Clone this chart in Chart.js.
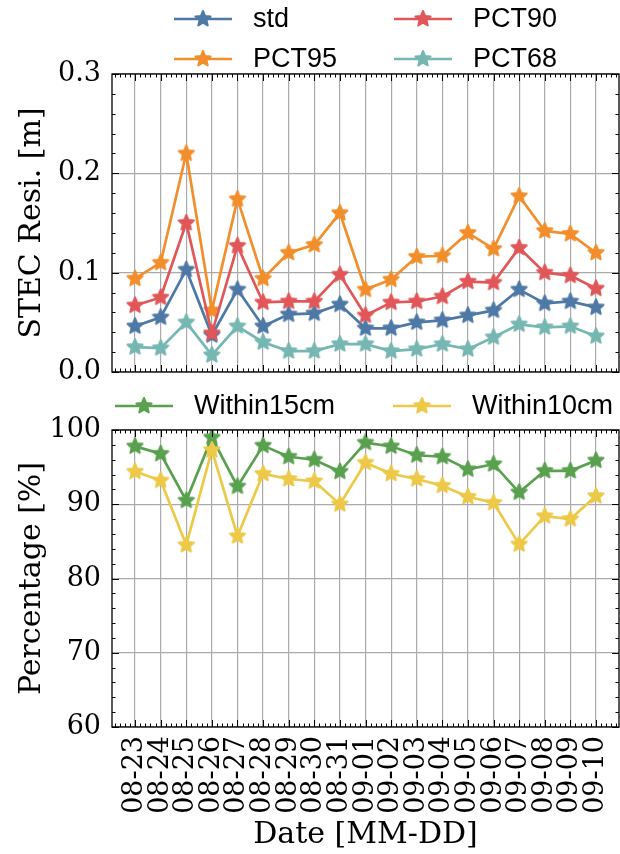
<!DOCTYPE html>
<html lang="en">
<head>
<meta charset="UTF-8">
<title>STEC residuals by date</title>
<script src="https://cdn.jsdelivr.net/npm/chart.js"></script>
<style>
  body { margin: 0; background: #fff; }
  #wrap { position: relative; width: 620px; height: 854px; }
  #wrap canvas { position: absolute; left: 0; }
</style>
</head>
<body>
<div id="wrap">
  <canvas id="stecChart" width="620" height="390" style="top:0"></canvas>
  <canvas id="pctChart" width="620" height="464" style="top:390px"></canvas>
</div>
<script>
// dates on the x axis
const dates = ['08-23', '08-24', '08-25', '08-26', '08-27', '08-28', '08-29', '08-30', '08-31',
               '09-01', '09-02', '09-03', '09-04', '09-05', '09-06', '09-07', '09-08', '09-09', '09-10'];

// STEC residual statistics [m]
const stdVals   = [0.046, 0.055, 0.103, 0.037, 0.083, 0.046, 0.058, 0.059, 0.068, 0.044,
                   0.044, 0.050, 0.052, 0.057, 0.062, 0.083, 0.069, 0.071, 0.065];
const pct95Vals = [0.094, 0.110, 0.220, 0.062, 0.174, 0.094, 0.120, 0.128, 0.160, 0.083,
                   0.093, 0.116, 0.117, 0.140, 0.124, 0.177, 0.142, 0.139, 0.120];
const pct90Vals = [0.067, 0.075, 0.150, 0.039, 0.127, 0.070, 0.071, 0.071, 0.098, 0.057,
                   0.070, 0.071, 0.076, 0.091, 0.090, 0.125, 0.100, 0.097, 0.084];
const pct68Vals = [0.025, 0.024, 0.050, 0.017, 0.046, 0.030, 0.021, 0.021, 0.028, 0.028,
                   0.021, 0.023, 0.028, 0.023, 0.035, 0.048, 0.045, 0.046, 0.036];

// share of residuals under the thresholds [%]
const within15 = [97.8, 96.8, 90.5, 99.0, 92.4, 97.9, 96.4, 96.0, 94.4, 98.3,
                  97.8, 96.6, 96.4, 94.7, 95.4, 91.6, 94.5, 94.5, 95.9];
const within10 = [94.4, 93.2, 84.5, 97.3, 85.7, 94.1, 93.4, 93.1, 90.0, 95.6,
                  94.1, 93.4, 92.5, 91.0, 90.2, 84.6, 88.4, 88.0, 91.1];

// y axis ticks
const stecTicks = [0.0, 0.1, 0.2, 0.3];
const pctTicks = [60, 70, 80, 90, 100];

const SERIF = "'DejaVu Serif', serif";
const SANS = "'Liberation Sans', Arial, sans-serif";

// filled five-point star used as the marker
function starMarker(color, r) {
    const size = Math.ceil(r * 2 + 4);
    const c = document.createElement('canvas');
    c.width = c.height = size;
    const g = c.getContext('2d');
    g.translate(size / 2, size / 2);
    g.beginPath();
    for (let i = 0; i < 10; i++) {
        const rad = i % 2 ? r * 0.46 : r;
        const a = -Math.PI / 2 + i * Math.PI / 5;
        g.lineTo(rad * Math.cos(a), rad * Math.sin(a));
    }
    g.closePath();
    g.fillStyle = color;
    g.strokeStyle = color;
    g.lineWidth = 2;
    g.lineJoin = 'round';
    g.fill();
    g.stroke();
    return c;
}

function series(label, values, color, i, n) {
    return {
        label: label,
        data: values.map((v, k) => ({x: k, y: v})),
        borderColor: color,
        backgroundColor: color,
        borderWidth: 2.7,
        pointStyle: starMarker(color, 8),
        pointRadius: 8,
        tension: 0,
        order: n - i   // later series drawn on top
    };
}

// inward ticks (major + minor) on all four sides and a closed frame
const innerTicks = {
    id: 'innerTicks',
    afterDraw(chart, args, o) {
        const {ctx, chartArea: a, scales: {x, y}} = chart;
        ctx.save();
        ctx.strokeStyle = '#000';
        ctx.lineWidth = 1;
        ctx.beginPath();
        for (let k = Math.ceil(x.min * 5); k <= Math.floor(x.max * 5); k++) {
            const px = Math.round(x.getPixelForValue(k / 5)) + 0.5;
            const len = k % 5 === 0 ? 7 : 3.5;
            ctx.moveTo(px, a.bottom); ctx.lineTo(px, a.bottom - len);
            ctx.moveTo(px, a.top); ctx.lineTo(px, a.top + len);
        }
        const step = o.minor;
        for (let k = Math.ceil(y.min / step - 1e-6); k <= Math.floor(y.max / step + 1e-6); k++) {
            const py = Math.round(y.getPixelForValue(k * step)) + 0.5;
            const len = k % 5 === 0 ? 7 : 3.5;
            ctx.moveTo(a.left, py); ctx.lineTo(a.left + len, py);
            ctx.moveTo(a.right, py); ctx.lineTo(a.right - len, py);
        }
        ctx.stroke();
        ctx.lineWidth = 1.3;
        ctx.strokeRect(a.left, a.top, a.right - a.left, a.bottom - a.top);
        ctx.restore();
    }
};

// legend: line handle with a star in the middle, filled column by column
const lineLegend = {
    id: 'lineLegend',
    afterDraw(chart, args, o) {
        const ctx = chart.ctx;
        const dsets = chart.data.datasets;
        ctx.save();
        ctx.font = o.font;
        ctx.textBaseline = 'middle';
        ctx.fillStyle = '#000';
        dsets.forEach((ds, i) => {
            const col = Math.floor(i / o.rows), row = i % o.rows;
            const x0 = o.colX[col], y0 = o.rowY[row];
            ctx.strokeStyle = ds.borderColor;
            ctx.lineWidth = 2.7;
            ctx.beginPath();
            ctx.moveTo(x0, y0); ctx.lineTo(x0 + o.handle, y0);
            ctx.stroke();
            const img = ds.pointStyle;
            ctx.drawImage(img, x0 + o.handle / 2 - img.width / 2, y0 - img.height / 2);
            ctx.fillText(ds.label, x0 + o.handle + o.gap, y0 + 1);
        });
        ctx.restore();
    }
};

function xAxis(showLabels, height) {
    return {
        type: 'linear',
        min: -0.9,
        max: 18.9,
        afterBuildTicks: axis => { axis.ticks = dates.map((d, i) => ({value: i})); },
        afterFit: scale => {
            scale.height = height;
            scale.paddingLeft = 0;
            scale.paddingRight = 0;
        },
        grid: {color: '#aaaaaa', lineWidth: 1.2, drawTicks: false},
        border: {display: false},
        ticks: {
            display: showLabels,
            autoSkip: false,
            minRotation: 90,
            maxRotation: 90,
            padding: 9,
            color: '#000',
            font: {family: SERIF, size: 27},
            callback: v => dates[v]
        },
        title: {
            display: showLabels,
            text: 'Date [MM-DD]',
            color: '#000',
            font: {family: SERIF, size: 30},
            padding: {top: 0, bottom: 1}
        }
    };
}

function yAxis(title, tickVals, digits) {
    return {
        min: tickVals[0],
        max: tickVals[tickVals.length - 1],
        afterBuildTicks: axis => { axis.ticks = tickVals.map(v => ({value: v})); },
        afterFit: scale => {
            scale.width = 112;
            scale.paddingTop = 0;
            scale.paddingBottom = 0;
        },
        grid: {color: '#aaaaaa', lineWidth: 1.2, drawTicks: false},
        border: {display: false},
        ticks: {
            padding: 11,
            color: '#000',
            font: {family: SERIF, size: 27},
            callback: v => v.toFixed(digits)
        },
        title: {
            display: true,
            text: title,
            color: '#000',
            font: {family: SERIF, size: 30},
            padding: {top: 14, bottom: 0}
        }
    };
}

const stecSets = [
    ['std', stdVals, '#4e79a7'],
    ['PCT95', pct95Vals, '#f28e2b'],
    ['PCT90', pct90Vals, '#e15759'],
    ['PCT68', pct68Vals, '#76b7b2']
];

new Chart(document.getElementById('stecChart'), {
    type: 'line',
    data: {datasets: stecSets.map((s, i) => series(s[0], s[1], s[2], i, stecSets.length))},
    options: {
        responsive: false,
        animation: false,
        layout: {autoPadding: false, padding: {top: 74, right: 1, left: 0, bottom: 0}},
        scales: {
            x: xAxis(false, 18),
            y: yAxis('STEC Resi. [m]', stecTicks, 1)
        },
        plugins: {
            legend: {display: false},
            tooltip: {enabled: false},
            innerTicks: {minor: 0.02},
            lineLegend: {font: '27px ' + SANS, rows: 2, colX: [174, 394], rowY: [19, 59], handle: 58, gap: 21}
        }
    },
    plugins: [innerTicks, lineLegend]
});

const pctSets = [
    ['Within15cm', within15, '#59a14f'],
    ['Within10cm', within10, '#edc948']
];

new Chart(document.getElementById('pctChart'), {
    type: 'line',
    data: {datasets: pctSets.map((s, i) => series(s[0], s[1], s[2], i, pctSets.length))},
    options: {
        responsive: false,
        animation: false,
        layout: {autoPadding: false, padding: {top: 40, right: 1, left: 0, bottom: 0}},
        scales: {
            x: xAxis(true, 127),
            y: yAxis('Percentage [%]', pctTicks, 0)
        },
        plugins: {
            legend: {display: false},
            tooltip: {enabled: false},
            innerTicks: {minor: 2},
            lineLegend: {font: '27px ' + SANS, rows: 1, colX: [115, 393], rowY: [16], handle: 58, gap: 21}
        }
    },
    plugins: [innerTicks, lineLegend]
});
</script>
</body>
</html>
